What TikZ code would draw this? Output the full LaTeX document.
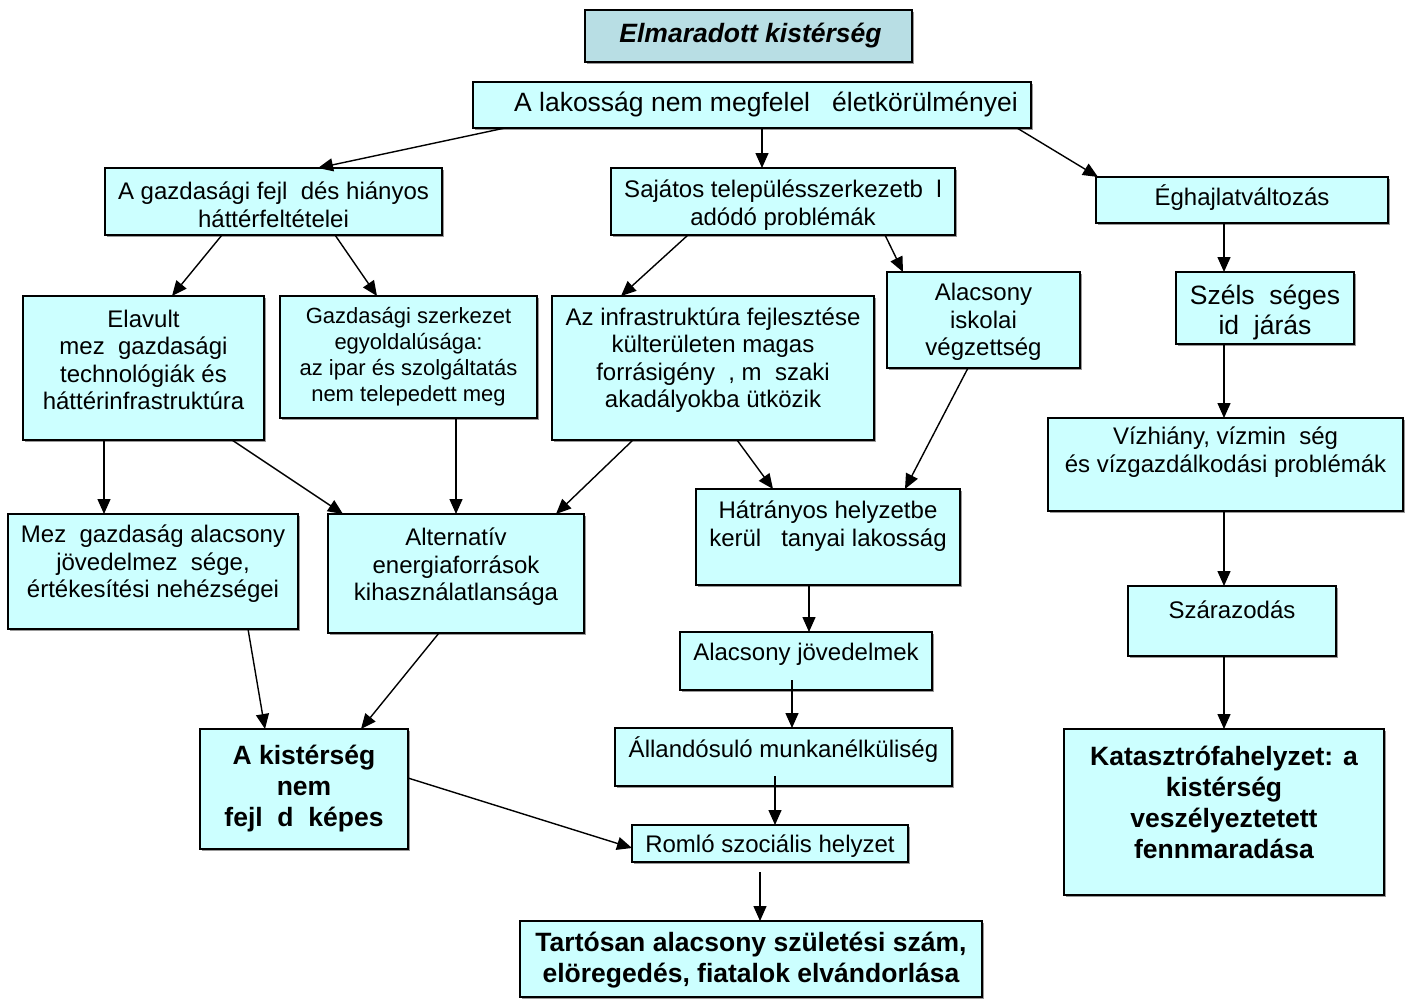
\documentclass[tikz,border=0pt]{standalone}
\usepackage{fontspec}
\setmainfont{Liberation Sans}
\usetikzlibrary{arrows.meta,shadows,calc}
\newcommand\gp{\hspace{0.556em}}
\newcommand\bx[9]{%
  \node[#7,minimum width={(#4)-(#2)},minimum height={(#5)-(#3)}] (#1) at ({((#2)+(#4))/2},{((#3)+(#5))/2}) {};
  \node[#8] (#1t) at ({((#2)+(#4))/2},#6) {#9};}
\definecolor{boxfill}{HTML}{CCFFFF}
\definecolor{titlefill}{HTML}{B8DEE4}
\tikzset{
  box/.style={draw=black,line width=1.8pt,fill=boxfill,inner sep=0pt,outer sep=0pt,
    drop shadow={shadow xshift=2pt,shadow yshift=-2pt,fill=black!40,opacity=1}},
  tbox/.style={box,fill=titlefill},
  ntxt/.style={inner sep=0pt,align=center,font=\fontsize{24}{27.5}\selectfont},
  stxt/.style={inner sep=0pt,align=center,font=\fontsize{22}{26}\selectfont},
  ltxt/.style={inner sep=0pt,align=center,font=\fontsize{26.5}{30}\selectfont},
  btxt/.style={inner sep=0pt,align=center,font=\fontsize{26.5}{31}\selectfont\bfseries},
  ttxt/.style={inner sep=0pt,align=center,font=\fontsize{26.5}{31}\selectfont\bfseries\itshape},
  arr/.style={line width=1.4pt,-{Triangle[length=15pt,width=13pt]}}
}
\begin{document}
\begin{tikzpicture}[x=1pt,y=-1pt]
\useasboundingbox (0,0) rectangle (1411,999);
\fill[white] (0,0) rectangle (1411,999);
\bx{title}{585}{10}{912}{62}{36}{tbox}{ttxt,xshift=2pt}{Elmaradott kistérség}
\bx{top}{473}{82}{1031}{128}{104}{box}{ltxt,xshift=14pt}{A lakosság nem megfelel\gp{} életkörülményei}
\bx{gazd}{105}{168}{442}{235}{205}{box}{ntxt}{A gazdasági fejl\gp dés hiányos\\háttérfeltételei}
\bx{saj}{611}{168}{955}{235}{205}{box}{ntxt}{Sajátos településszerkezetb\gp l\\adódó problémák}
\bx{egh}{1096}{177}{1388}{223}{198}{box}{ntxt}{Éghajlatváltozás}
\bx{elav}{23}{296}{264}{440}{360}{box}{ntxt}{Elavult\\mez\gp gazdasági\\technológiák és\\háttérinfrastruktúra}
\bx{szerk}{280}{296}{537}{418}{357}{box}{stxt}{Gazdasági szerkezet\\egyoldalúsága:\\az ipar és szolgáltatás\\nem telepedett meg}
\bx{infra}{552}{296}{874}{440}{360}{box}{ntxt}{Az infrastruktúra fejlesztése\\külterületen magas\\forrásigény\gp, m\gp szaki\\akadályokba ütközik}
\bx{isk}{887}{272}{1080}{368}{322}{box}{ntxt}{Alacsony\\iskolai\\végzettség}
\bx{szels}{1176}{272}{1354}{344}{312}{box}{ltxt}{Széls\gp séges\\id\gp járás}
\bx{viz}{1048}{418}{1403}{511}{452}{box}{ntxt}{Vízhiány, vízmin\gp ség\\és vízgazdálkodási problémák}
\bx{mezo}{8}{514}{298}{629}{564}{box}{ntxt}{Mez\gp gazdaság alacsony\\jövedelmez\gp sége,\\értékesítési nehézségei}
\bx{alt}{328}{514}{584}{633}{567}{box}{ntxt}{Alternatív\\energiaforrások\\kihasználatlansága}
\bx{hatr}{696}{489}{960}{585}{526}{box}{ntxt}{Hátrányos helyzetbe\\kerül\gp{} tanyai lakosság}
\bx{szar}{1128}{586}{1336}{656}{610}{box}{ntxt}{Szárazodás}
\bx{jov}{680}{632}{932}{690}{654}{box}{ntxt}{Alacsony jövedelmek}
\bx{kis}{200}{729}{408}{849}{789}{box}{btxt}{A kistérség\\nem\\fejl\gp d\gp képes}
\bx{mun}{615}{728}{952}{786}{750}{box}{ntxt}{Állandósuló munkanélküliség}
\bx{kat}{1064}{729}{1384}{895}{802}{box}{btxt}{Katasztrófahelyzet: a\\kistérség\\veszélyeztetett\\fennmaradása}
\bx{roml}{632}{825}{908}{862}{846}{box}{ntxt}{Romló szociális helyzet}
\bx{tart}{520}{921}{982}{997}{960}{box}{btxt}{Tartósan alacsony születési szám,\\elöregedés, fiatalok elvándorlása}
% connectors
\draw[arr] ([xshift=32pt]top.south west) -- ([xshift=213pt]gazd.north west);
\draw[arr] ([xshift=289pt]top.south west) -- ([xshift=151pt]saj.north west);
\draw[arr] ([xshift=544pt]top.south west) -- ([xshift=2pt]egh.north west);
\draw[arr] ([xshift=117pt]gazd.south west) -- ([xshift=149pt]elav.north west);
\draw[arr] ([xshift=230pt]gazd.south west) -- ([xshift=97pt]szerk.north west);
\draw[arr] ([xshift=77pt]saj.south west) -- ([xshift=69pt]infra.north west);
\draw[arr] ([xshift=274pt]saj.south west) -- ([xshift=16pt]isk.north west);
\draw[arr] ([xshift=128pt]egh.south west) -- ([xshift=48pt]szels.north west);
\draw[arr] ([xshift=48pt]szels.south west) -- ([xshift=176pt]viz.north west);
\draw[arr] ([xshift=81pt]elav.south west) -- ([xshift=96pt]mezo.north west);
\draw[arr] ([xshift=209pt]elav.south west) -- ([xshift=15pt]alt.north west);
\draw[arr] ([xshift=176pt]szerk.south west) -- ([xshift=128pt]alt.north west);
\draw[arr] ([xshift=81pt]infra.south west) -- ([xshift=228pt]alt.north west);
\draw[arr] ([xshift=185pt]infra.south west) -- ([xshift=77pt]hatr.north west);
\draw[arr] ([xshift=81pt]isk.south west) -- ([xshift=209pt]hatr.north west);
\draw[arr] ([xshift=176pt]viz.south west) -- ([xshift=96pt]szar.north west);
\draw[arr] ([xshift=113pt]hatr.south west) -- ([xshift=129pt]jov.north west);
\draw[arr] ([xshift=96pt]szar.south west) -- ([xshift=160pt]kat.north west);
\draw[arr] ([xshift=240pt]mezo.south west) -- ([xshift=65pt]kis.north west);
\draw[arr] ([xshift=111pt]alt.south west) -- ([xshift=161pt]kis.north west);
\draw[arr] ([xshift=112pt,yshift=10pt]jov.south west) -- ([xshift=177pt]mun.north west);
\draw[arr] ([xshift=160pt,yshift=10pt]mun.south west) -- ([xshift=143pt]roml.north west);
\draw[arr] ([yshift=-49pt]kis.north east) -- ([yshift=-23pt]roml.north west);
\draw[arr] ([xshift=128pt,yshift=-10pt]roml.south west) -- ([xshift=240pt]tart.north west);
\end{tikzpicture}
\end{document}
